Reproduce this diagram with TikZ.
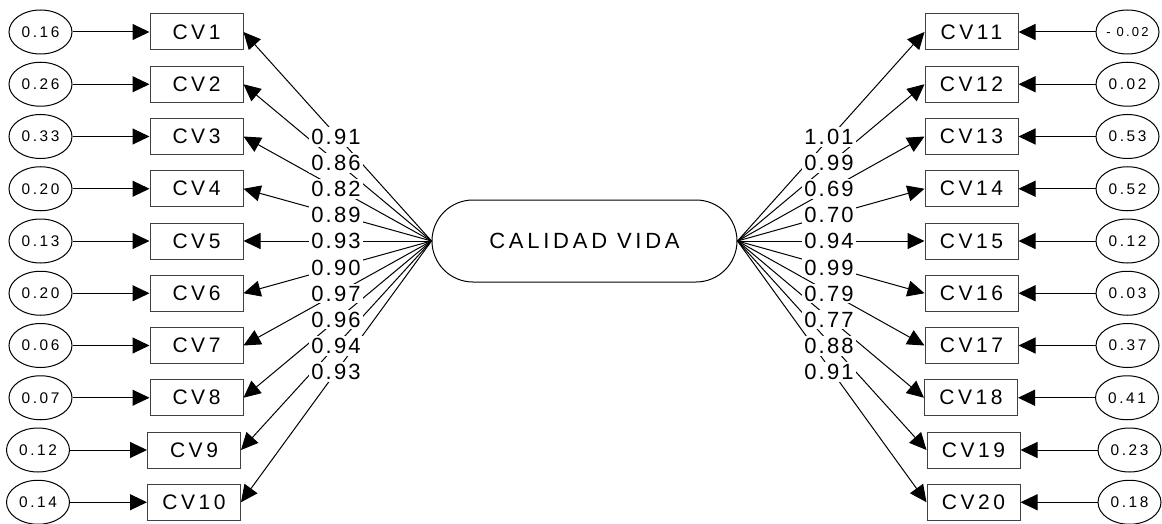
\documentclass[tikz,border=0pt]{standalone}
\usepackage{fontspec}
\setmainfont{Liberation Sans}
\newfontfamily\widefont[LetterSpace=17]{Liberation Sans}
\newfontfamily\loadfont[LetterSpace=10]{Liberation Sans}
\usepackage{tikz}
\usetikzlibrary{shapes.geometric, arrows.meta, positioning}

\begin{document}
\begin{tikzpicture}[x=0.5pt, y=-0.5pt,
    cvbox/.style={rectangle, draw=black!75, line width=0.5pt, minimum width=46.5pt,
      minimum height=18pt, inner sep=0pt, font=\widefont\fontsize{10.5}{12}\selectfont},
    errvar/.style={ellipse, draw, line width=0.5pt, minimum width=31.5pt,
      minimum height=22pt, inner sep=0pt, font=\widefont\fontsize{7.7}{9}\selectfont},
    latent/.style={rectangle, rounded corners=20.5pt, draw, line width=0.5pt,
      minimum width=152.5pt, minimum height=41pt, font=\widefont\fontsize{11}{13}\selectfont},
    loading/.style={fill=white, inner sep=1pt, font=\loadfont\fontsize{11}{13}\selectfont},
    arr/.style={-{Triangle[length=8.5pt, width=8pt]}, line width=0.5pt}]

    \useasboundingbox (0,0) rectangle (1162,524);

    % latent factor
    \node (calidad) [latent] at (584.5,241) {CALIDAD VIDA};

    % indicators on the left
    \node (cv1) [cvbox] at (196.5,32) {CV1};
    \node (cv2) [cvbox] at (196.5,84.25) {CV2};
    \node (cv3) [cvbox] at (196.5,136.5) {CV3};
    \node (cv4) [cvbox] at (196.5,188.75) {CV4};
    \node (cv5) [cvbox] at (196.5,241) {CV5};
    \node (cv6) [cvbox] at (196.5,293.25) {CV6};
    \node (cv7) [cvbox] at (196.5,345.5) {CV7};
    \node (cv8) [cvbox] at (196.5,397.75) {CV8};
    \node (cv9) [cvbox] at (194,450) {CV9};
    \node (cv10) [cvbox] at (194,502.25) {CV10};

    % indicators on the right
    \node (cv11) [cvbox] at (971.5,32) {CV11};
    \node (cv12) [cvbox] at (971.5,84.25) {CV12};
    \node (cv13) [cvbox] at (971.5,136.5) {CV13};
    \node (cv14) [cvbox] at (971.5,188.75) {CV14};
    \node (cv15) [cvbox] at (971.5,241) {CV15};
    \node (cv16) [cvbox] at (971.5,293.25) {CV16};
    \node (cv17) [cvbox] at (971.5,345.5) {CV17};
    \node (cv18) [cvbox] at (971,397.75) {CV18};
    \node (cv19) [cvbox] at (973.5,450) {CV19};
    \node (cv20) [cvbox] at (973.5,502.25) {CV20};

    % error terms
    \node (e1) [errvar, left=38.5pt of cv1] {0.16};
    \node (e2) [errvar, left=38.5pt of cv2] {0.26};
    \node (e3) [errvar, left=38.5pt of cv3] {0.33};
    \node (e4) [errvar, left=38.5pt of cv4] {0.20};
    \node (e5) [errvar, left=38.5pt of cv5] {0.13};
    \node (e6) [errvar, left=38.5pt of cv6] {0.20};
    \node (e7) [errvar, left=38.5pt of cv7] {0.06};
    \node (e8) [errvar, left=38.5pt of cv8] {0.07};
    \node (e9) [errvar, left=38.5pt of cv9] {0.12};
    \node (e10) [errvar, left=38.5pt of cv10] {0.14};
    \node (e11) [errvar, right=38.5pt of cv11, font=\widefont\fontsize{6.5}{8}\selectfont] {- 0.02};
    \node (e12) [errvar, right=38.5pt of cv12] {0.02};
    \node (e13) [errvar, right=38.5pt of cv13] {0.53};
    \node (e14) [errvar, right=38.5pt of cv14] {0.52};
    \node (e15) [errvar, right=38.5pt of cv15] {0.12};
    \node (e16) [errvar, right=38.5pt of cv16] {0.03};
    \node (e17) [errvar, right=38.5pt of cv17] {0.37};
    \node (e18) [errvar, right=38.5pt of cv18] {0.41};
    \node (e19) [errvar, right=38.5pt of cv19] {0.23};
    \node (e20) [errvar, right=38.5pt of cv20] {0.18};

    \draw [arr] (e1) -- (cv1);
    \draw [arr] (e2) -- (cv2);
    \draw [arr] (e3) -- (cv3);
    \draw [arr] (e4) -- (cv4);
    \draw [arr] (e5) -- (cv5);
    \draw [arr] (e6) -- (cv6);
    \draw [arr] (e7) -- (cv7);
    \draw [arr] (e8) -- (cv8);
    \draw [arr] (e9) -- (cv9);
    \draw [arr] (e10) -- (cv10);
    \draw [arr] (e11) -- (cv11);
    \draw [arr] (e12) -- (cv12);
    \draw [arr] (e13) -- (cv13);
    \draw [arr] (e14) -- (cv14);
    \draw [arr] (e15) -- (cv15);
    \draw [arr] (e16) -- (cv16);
    \draw [arr] (e17) -- (cv17);
    \draw [arr] (e18) -- (cv18);
    \draw [arr] (e19) -- (cv19);
    \draw [arr] (e20) -- (cv20);

    % factor loadings
    \draw [arr] (calidad.west) -- (cv1.east);
    \draw [arr] (calidad.west) -- (cv2.east);
    \draw [arr] (calidad.west) -- (cv3.east);
    \draw [arr] (calidad.west) -- (cv4.east);
    \draw [arr] (calidad.west) -- (cv5.east);
    \draw [arr] (calidad.west) -- (cv6.east);
    \draw [arr] (calidad.west) -- (cv7.east);
    \draw [arr] (calidad.west) -- (cv8.east);
    \draw [arr] (calidad.west) -- (cv9.east);
    \draw [arr] (calidad.west) -- (cv10.east);
    \draw [arr] (calidad.east) -- (cv11.west);
    \draw [arr] (calidad.east) -- (cv12.west);
    \draw [arr] (calidad.east) -- (cv13.west);
    \draw [arr] (calidad.east) -- (cv14.west);
    \draw [arr] (calidad.east) -- (cv15.west);
    \draw [arr] (calidad.east) -- (cv16.west);
    \draw [arr] (calidad.east) -- (cv17.west);
    \draw [arr] (calidad.east) -- (cv18.west);
    \draw [arr] (calidad.east) -- (cv19.west);
    \draw [arr] (calidad.east) -- (cv20.west);

    % loading values, stacked beside the factor
    \node (l1) [loading] at (336,137) {0.91};
    \node (l2) [loading] at (336,163.1) {0.86};
    \node (l3) [loading] at (336,189.2) {0.82};
    \node (l4) [loading] at (336,215.3) {0.89};
    \node (l5) [loading] at (336,241.4) {0.93};
    \node (l6) [loading] at (336,267.5) {0.90};
    \node (l7) [loading] at (336,293.6) {0.97};
    \node (l8) [loading] at (336,319.7) {0.96};
    \node (l9) [loading] at (336,345.8) {0.94};
    \node (l10) [loading] at (336,371.9) {0.93};
    \node (l11) [loading] at (829,137) {1.01};
    \node (l12) [loading] at (829,163.1) {0.99};
    \node (l13) [loading] at (829,189.2) {0.69};
    \node (l14) [loading] at (829,215.3) {0.70};
    \node (l15) [loading] at (829,241.4) {0.94};
    \node (l16) [loading] at (829,267.5) {0.99};
    \node (l17) [loading] at (829,293.6) {0.79};
    \node (l18) [loading] at (829,319.7) {0.77};
    \node (l19) [loading] at (829,345.8) {0.88};
    \node (l20) [loading] at (829,371.9) {0.91};
\end{tikzpicture}
\end{document}
